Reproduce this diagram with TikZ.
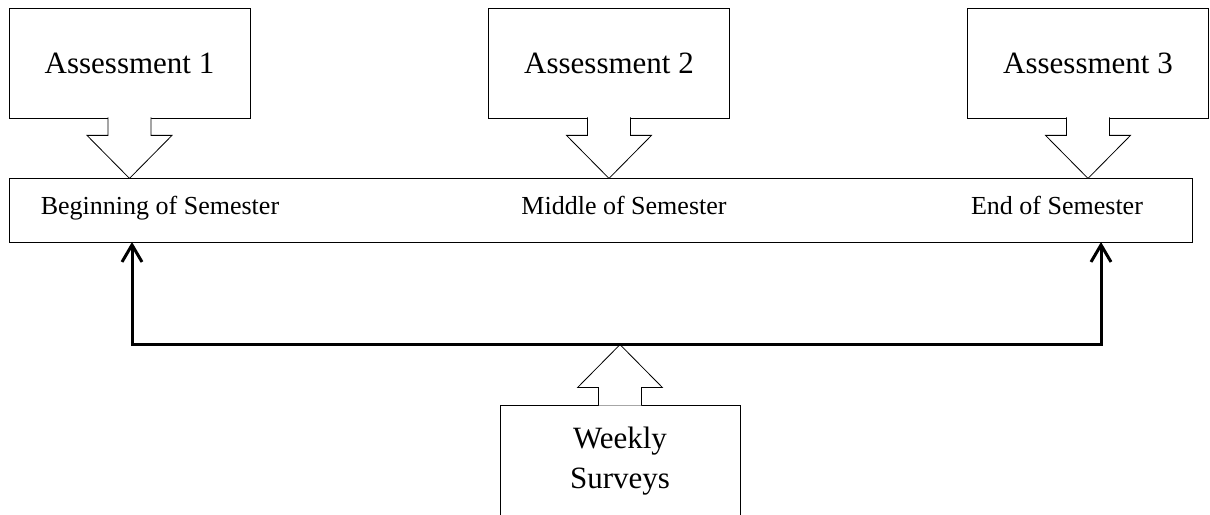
\documentclass[tikz,border=0pt]{standalone}
\usepackage{fontspec}
\setmainfont{Liberation Serif}
\usetikzlibrary{arrows.meta,calc}

\tikzset{
  abox/.style={draw, rectangle, minimum width=120.5pt, minimum height=55pt, inner sep=0pt, font=\fontsize{15.5}{20}\selectfont},
  semlabel/.style={font=\fontsize{13}{15}\selectfont, inner sep=0pt, anchor=base},
  link/.style={line width=1.5pt, -{Straight Barb[length=8.5pt,width=10pt]}},
  blockdown/.pic={\draw[fill=white] (-21.5,1) -- (-21.5,-17) -- (-42.5,-17) -- (0,-60) -- (42.5,-17) -- (21.5,-17) -- (21.5,1);},
  blockup/.pic={\draw[fill=white] (-21.5,-1) -- (-21.5,17) -- (-42.5,17) -- (0,60) -- (42.5,17) -- (21.5,17) -- (21.5,-1);
    \coordinate (-tip) at (0,60);}
}

\begin{document}
\begin{tikzpicture}[x=0.5pt, y=0.5pt]
    \useasboundingbox (0,0) rectangle (1210,514);
    \clip (0,0) rectangle (1210,514);

    % timeline bar
    \node[draw, rectangle, minimum width=591.5pt, minimum height=32pt, inner sep=0pt] (sem) at (600.5,304) {};
    \node[semlabel] (begin) at (160,299) {Beginning of Semester};
    \node[semlabel] (middle) at (624,299) {Middle of Semester};
    \node[semlabel] (end) at (1057,299) {End of Semester};

    % assessments
    \node[abox] (as1) at (129.5,451) {Assessment 1};
    \node[abox] (as2) at (609,451) {Assessment 2};
    \node[abox] (as3) at (1088,451) {Assessment 3};

    \pic at (as1.south) {blockdown};
    \pic at (as2.south) {blockdown};
    \pic at (as3.south) {blockdown};

    % weekly surveys
    \node[abox, minimum width=120pt, minimum height=56pt, align=center] (weekly) at (620,53) {Weekly\\Surveys};
    \pic (wk) at (weekly.north) {blockup};

    \coordinate (b1) at (132,272);
    \coordinate (b3) at (1101,272);

    \draw[link] (wk-tip) -| (b1);
    \draw[link] (wk-tip) -| (b3);
\end{tikzpicture}
\end{document}
